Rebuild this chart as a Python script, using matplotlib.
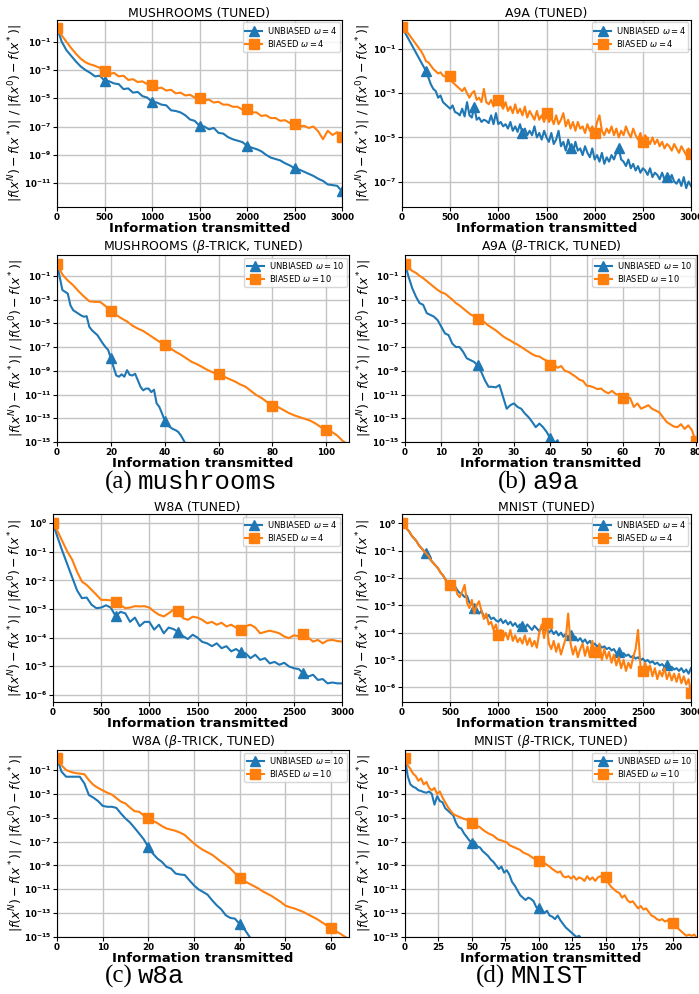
import numpy as np
import matplotlib
matplotlib.use('Agg')
import matplotlib.pyplot as plt
from matplotlib.ticker import FixedLocator, NullLocator

BLUE = '#1f77b4'
ORANGE = '#ff7f0e'

# ---------------- data (log10 of relative suboptimality) ----------------
# (a) mushrooms, tuned: x = information transmitted, step 50
mush_x = np.arange(0, 3001, 50)
mush_unb = [0, -1.0, -1.6, -2.0, -2.4, -2.75, -3.0, -3.2, -3.45, -3.4,
            -3.75, -3.8, -3.95, -4.0, -4.35, -4.3, -4.6, -4.55, -4.85, -4.95,
            -5.25, -5.3, -5.45, -5.5, -5.85, -5.9, -6.0, -6.2, -6.5, -6.6,
            -6.95, -7.0, -7.2, -7.1, -7.45, -7.5, -7.75, -7.9, -8.0, -8.1,
            -8.35, -8.5, -8.6, -8.75, -9.0, -9.2, -9.3, -9.4, -9.6, -9.75,
            -9.95, -10.05, -10.2, -10.35, -10.5, -10.7, -10.85, -11.1, -11.15, -11.2,
            -11.6]
mush_bia = [0, -0.55, -1.0, -1.45, -1.85, -2.2, -2.45, -2.6, -2.7, -2.85,
            -3.05, -3.3, -3.2, -3.45, -3.4, -3.7, -3.65, -3.85, -3.8, -4.0,
            -4.05, -4.3, -4.25, -4.45, -4.4, -4.65, -4.6, -4.8, -4.75, -4.95,
            -4.95, -5.15, -5.1, -5.3, -5.25, -5.45, -5.45, -5.6, -5.6, -5.8,
            -5.75, -6.0, -6.0, -6.25, -6.2, -6.4, -6.4, -6.6, -6.55, -6.75,
            -6.8, -7.0, -6.95, -7.1, -7.0, -7.35, -7.9, -7.3, -7.6, -7.4,
            -7.75]

# (b) a9a, tuned: step 25
a9a_x = np.arange(0, 3001, 25)
a9a_unb = [0, -0.2, -0.4, -0.6, -0.8, -1.0, -1.2, -1.4, -1.6, -1.8,
           -2.0, -2.3, -2.6, -2.8, -2.9, -3.2, -3.1, -3.4, -3.5, -3.6,
           -3.7, -3.55, -3.85, -3.9, -4.0, -3.7, -4.05, -3.4, -4.0, -4.1,
           -3.6, -4.2, -4.1, -4.3, -4.2, -4.25, -4.35, -4.0, -4.4, -3.9,
           -4.4, -4.3, -4.5, -4.4, -4.6, -4.3, -4.7, -4.5, -4.75, -4.4,
           -4.8, -4.6, -4.9, -4.7, -4.9, -4.5, -5.0, -4.8, -5.1, -4.7,
           -5.0, -5.2, -4.8, -5.3, -5.1, -4.7, -5.4, -5.2, -5.6, -5.1,
           -5.5, -5.7, -5.2, -5.6, -5.5, -5.8, -5.4, -5.7, -5.9, -5.5,
           -6.0, -5.8, -6.1, -5.7, -6.2, -5.9, -6.1, -5.8, -6.0, -5.7,
           -5.5, -6.0, -6.1, -6.3, -6.0, -6.4, -6.2, -6.5, -6.3, -6.6,
           -6.4, -6.5, -6.7, -6.4, -6.8, -6.6, -6.7, -6.9, -6.6, -6.9,
           -6.8, -7.0, -6.7, -7.0, -7.1, -6.9, -7.2, -6.8, -7.3, -7.0,
           -7.2]
a9a_bia = [0.0, -0.1, -0.2, -0.35, -0.5, -0.65, -0.8, -0.95, -1.1, -1.3,
           -1.55, -1.6, -1.75, -1.9, -2.0, -2.1, -2.05, -2.2, -2.25, -2.2,
           -2.2, -2.5, -2.6, -2.7, -2.8, -2.9, -2.75, -3.0, -3.2, -3.0,
           -2.9, -3.3, -3.2, -3.4, -2.8, -3.4, -3.5, -3.3, -3.6, -3.2,
           -3.3, -3.5, -3.7, -3.4, -3.8, -3.6, -3.9, -3.5, -3.9, -3.7,
           -4.0, -3.6, -4.1, -3.8, -4.0, -4.2, -3.8, -4.2, -4.0, -4.3,
           -3.9, -4.3, -4.1, -4.4, -4.0, -4.4, -4.2, -3.9, -4.5, -4.2,
           -4.6, -4.3, -4.7, -4.3, -4.6, -4.5, -4.8, -4.4, -4.7, -4.5,
           -4.8, -4.3, -4.0, -4.7, -4.9, -4.6, -4.8, -4.5, -4.9, -4.6,
           -5.0, -4.7, -4.9, -4.5, -4.8, -5.0, -4.6, -4.9, -5.1, -4.8,
           -5.2, -4.9, -5.1, -5.3, -5.0, -5.3, -5.1, -5.4, -5.2, -5.5,
           -5.3, -5.4, -5.6, -5.3, -5.5, -5.7, -5.4, -5.6, -5.8, -5.5,
           -5.75]

# (a) mushrooms, beta-trick
mushb_xu = np.arange(0, 49, 1)
mushb_unb = [0, -1.1, -2.2, -2.35, -2.5, -3.5, -3.9, -4.05, -4.2, -4.35,
             -4.45, -4.4, -5.3, -5.6, -5.8, -6.0, -6.35, -6.7, -7.0, -7.25,
             -7.95, -8.7, -9.4, -9.5, -9.3, -9.5, -8.95, -9.35, -9.4, -9.25,
             -9.8, -10.35, -10.65, -10.5, -10.5, -10.8, -10.6, -11.75, -12.05, -12.6,
             -13.2, -13.6, -13.75, -13.9, -14.0, -14.15, -14.45, -14.85, -15.3]
mushb_xb = np.arange(0, 109, 2)
mushb_bia = [0.0, -0.9, -1.4, -1.8, -2.3, -2.75, -3.15, -3.2, -3.2, -3.55,
             -3.95, -4.3, -4.6, -4.85, -5.2, -5.45, -5.65, -5.95, -6.25, -6.55,
             -6.85, -7.1, -7.4, -7.65, -7.95, -8.25, -8.45, -8.7, -8.95, -9.15,
             -9.3, -9.5, -9.7, -9.9, -10.15, -10.35, -10.7, -11.05, -11.3, -11.65,
             -11.95, -12.05, -12.3, -12.55, -12.75, -12.9, -13.05, -13.2, -13.45, -13.75,
             -13.95, -14.15, -14.45, -14.9, -15.2]

# (b) a9a, beta-trick
a9ab_xu = np.arange(0, 44, 1)
a9ab_unb = [0, -1.1, -2.05, -2.75, -3.3, -3.45, -4.15, -4.3, -4.45, -4.75,
            -5.3, -5.85, -6.0, -6.7, -7.0, -7.0, -7.4, -7.95, -8.1, -8.25,
            -8.55, -9.1, -9.8, -10.35, -10.35, -10.4, -10.2, -11.2, -12.2, -11.9,
            -11.75, -12.05, -12.2, -12.6, -12.9, -13.3, -13.75, -13.45, -13.75, -14.15,
            -14.7, -15.15, -14.85, -15.6]
a9ab_xb = np.arange(0, 81, 1)
a9ab_bia = [0, -0.3, -0.6, -0.75, -1.0, -1.2, -1.45, -1.7, -1.95, -2.2,
            -2.4, -2.5, -2.75, -3.0, -3.3, -3.5, -3.75, -4.0, -4.25, -4.4,
            -4.6, -4.7, -4.95, -5.2, -5.4, -5.6, -5.85, -6.1, -6.3, -6.45,
            -6.65, -6.8, -7.0, -7.2, -7.4, -7.6, -7.75, -7.8, -8.0, -8.15,
            -8.5, -8.45, -8.75, -8.6, -9.0, -9.1, -9.3, -9.5, -9.75, -9.85,
            -10.25, -10.3, -10.4, -10.55, -10.5, -10.75, -10.9, -10.7, -10.95, -11.05,
            -11.3, -11.2, -11.3, -12.05, -11.75, -12.2, -12.05, -11.9, -12.2, -12.35,
            -12.5, -12.9, -13.3, -13.5, -13.7, -13.75, -13.5, -13.9, -13.6, -14.0,
            -14.9]

# (c) w8a, tuned: step 50
w8a_x = np.arange(0, 3001, 50)
w8a_unb = [0, -0.52, -1.0, -1.45, -1.9, -2.35, -2.62, -2.6, -2.85, -2.97,
           -2.95, -2.87, -2.95, -3.25, -3.1, -3.15, -3.45, -3.3, -3.6, -3.45,
           -3.45, -3.72, -3.55, -3.85, -3.65, -3.7, -3.8, -3.95, -4.05, -3.9,
           -4.0, -4.15, -4.2, -4.3, -4.2, -4.37, -4.3, -4.48, -4.4, -4.52,
           -4.55, -4.72, -4.6, -4.78, -4.72, -4.9, -4.85, -4.95, -4.88, -5.01,
           -5.07, -5.1, -5.25, -5.36, -5.3, -5.48, -5.45, -5.6, -5.57, -5.6,
           -5.6]
w8a_bia = [0, -0.3, -0.65, -1.0, -1.28, -1.7, -2.04, -2.16, -2.33, -2.5,
           -2.68, -2.68, -2.7, -2.74, -2.86, -2.97, -2.95, -2.9, -2.91, -2.9,
           -2.95, -3.09, -3.2, -3.26, -3.15, -3.03, -3.07, -3.32, -3.38, -3.27,
           -3.3, -3.38, -3.5, -3.45, -3.55, -3.48, -3.61, -3.55, -3.65, -3.73,
           -3.6, -3.55, -3.65, -3.85, -3.8, -3.76, -3.8, -3.85, -3.96, -4.02,
           -3.92, -3.95, -3.88, -4.0, -4.14, -4.08, -4.2, -4.1, -4.08, -4.12,
           -4.14]

# (d) MNIST, tuned: step 25
mnist_x = np.arange(0, 3001, 25)
mnist_unb = [0, -0.1, -0.2, -0.3, -0.45, -0.55, -0.65, -0.8, -0.9, -1.0,
             -1.1, -1.2, -1.35, -1.45, -1.55, -1.65, -1.8, -1.9, -2.05, -2.15,
             -2.3, -2.35, -2.3, -2.45, -2.55, -2.6, -2.7, -2.65, -2.9, -2.95,
             -3.1, -3.2, -3.3, -3.2, -3.4, -3.45, -3.35, -3.5, -3.45, -3.55,
             -3.6, -3.5, -3.65, -3.55, -3.7, -3.6, -3.75, -3.65, -3.8, -3.7,
             -3.75, -3.85, -3.7, -3.8, -3.9, -3.75, -3.85, -3.95, -3.8, -3.9,
             -3.85, -4.0, -3.9, -4.05, -3.95, -4.1, -4.0, -4.15, -4.05, -4.2,
             -4.1, -4.25, -4.15, -4.3, -4.2, -4.35, -4.25, -4.4, -4.3, -4.45,
             -4.4, -4.5, -4.45, -4.55, -4.5, -4.6, -4.55, -4.65, -4.6, -4.75,
             -4.7, -4.8, -4.75, -4.85, -4.8, -4.9, -4.85, -4.95, -4.9, -5.0,
             -4.95, -5.05, -5.0, -5.1, -5.05, -5.15, -5.1, -5.2, -5.15, -5.25,
             -5.2, -5.3, -5.25, -5.35, -5.3, -5.4, -5.3, -5.45, -5.35, -5.5,
             -5.3]
mnist_bia = [0, -0.1, -0.2, -0.3, -0.45, -0.55, -0.65, -0.8, -0.9, -1.0,
             -1.1, -1.2, -1.35, -1.45, -1.55, -1.65, -1.8, -1.9, -2.05, -2.3,
             -2.25, -2.45, -2.3, -2.6, -2.7, -2.5, -2.25, -2.9, -3.1, -2.8,
             -3.3, -3.0, -2.85, -3.2, -3.5, -3.3, -3.7, -3.6, -3.9, -3.7,
             -4.1, -3.9, -4.2, -4.0, -4.25, -3.9, -4.3, -4.1, -4.35, -4.2,
             -4.4, -4.1, -4.45, -4.2, -4.5, -4.3, -4.55, -4.0, -3.7, -4.2,
             -3.65, -4.4, -4.6, -4.3, -4.7, -4.4, -4.8, -4.5, -4.2, -3.3,
             -4.4, -4.8, -4.5, -4.9, -4.6, -4.4, -4.85, -4.5, -4.9, -4.3,
             -4.7, -4.9, -4.4, -5.0, -4.6, -4.95, -4.7, -5.1, -4.8, -5.2,
             -4.9, -5.3, -5.0, -5.4, -5.1, -5.3, -4.9, -4.6, -3.9, -5.2,
             -5.4, -5.1, -5.5, -5.2, -5.6, -5.3, -5.7, -5.4, -5.6, -5.3,
             -5.7, -5.45, -5.75, -5.5, -5.8, -5.5, -5.85, -5.6, -5.9, -5.7,
             -6.2]

# (c) w8a, beta-trick
w8ab_xu = np.arange(0, 44, 1)
w8ab_unb = [0, -1.14, -1.56, -1.56, -1.56, -1.56, -2.12, -3.1, -3.32, -3.6,
            -4.0, -4.08, -4.08, -4.17, -4.64, -5.06, -5.4, -5.85, -6.32, -6.8,
            -7.45, -8.0, -8.42, -8.7, -9.12, -9.26, -9.68, -9.76, -9.8, -10.24,
            -10.66, -11.0, -11.22, -11.45, -11.92, -12.34, -12.68, -13.18, -13.4, -13.46,
            -13.9, -14.3, -14.87, -15.4]
w8ab_xb = np.arange(0, 65, 1)
w8ab_bia = [0, -0.6, -1.0, -1.15, -1.25, -1.3, -1.35, -1.85, -2.25, -2.5,
            -2.7, -2.9, -3.05, -3.35, -3.65, -3.8, -4.15, -4.45, -4.5, -4.8,
            -5.0, -5.25, -5.45, -5.7, -5.9, -6.0, -6.1, -6.25, -6.45, -6.8,
            -7.15, -7.45, -7.7, -7.9, -8.1, -8.4, -8.7, -8.95, -9.25, -9.65,
            -10.05, -10.3, -10.5, -10.7, -10.9, -11.15, -11.35, -11.55, -11.8, -12.05,
            -12.35, -12.5, -12.6, -12.75, -12.9, -13.1, -13.3, -13.5, -13.75, -14.0,
            -14.25, -14.5, -14.7, -14.95, -15.2]

# (d) MNIST, beta-trick: step 2
mnistb_xu = np.arange(0, 133, 2)
mnistb_unb = [0, -1.5, -2.2, -2.4, -2.5, -2.7, -2.75, -2.85, -2.9, -2.8,
              -3.0, -3.9, -3.2, -3.6, -3.7, -4.2, -4.4, -4.6, -4.8, -5.4,
              -5.8, -5.9, -6.3, -6.6, -6.9, -7.1, -7.0, -7.4, -7.5, -7.8,
              -8.0, -8.2, -8.5, -8.7, -9.0, -9.3, -9.1, -9.6, -9.4, -9.8,
              -10.4, -10.7, -11.1, -11.5, -11.7, -11.9, -11.7, -11.8, -12.0, -12.5,
              -12.6, -12.7, -13.0, -12.8, -13.2, -13.3, -13.5, -13.2, -13.6, -13.9,
              -14.2, -14.4, -14.6, -14.8, -15.0, -14.9, -15.2]
mnistb_xb = np.arange(0, 219, 2)
mnistb_bia = [0, -0.6, -0.9, -1.3, -1.5, -1.9, -1.7, -2.2, -2.0, -2.5,
              -2.7, -2.5, -3.0, -2.8, -3.3, -3.7, -4.1, -4.4, -4.7, -4.8,
              -4.9, -5.0, -5.1, -5.15, -5.3, -5.4, -5.5, -5.7, -5.8, -6.0,
              -6.15, -6.3, -6.4, -6.5, -6.7, -6.85, -6.9, -7.0, -7.05, -7.3,
              -7.4, -7.5, -7.6, -7.7, -7.9, -8.0, -8.1, -8.25, -8.4, -8.5,
              -8.65, -8.6, -8.8, -8.95, -9.1, -9.3, -9.45, -9.6, -9.5, -9.9,
              -10.0, -9.9, -10.1, -9.9, -10.2, -10.0, -10.1, -10.3, -9.9, -10.2,
              -10.0, -10.3, -10.0, -9.9, -10.1, -9.95, -10.5, -10.8, -11.0, -11.2,
              -11.3, -11.7, -11.5, -11.9, -12.1, -12.0, -12.3, -12.6, -12.4, -12.7,
              -12.6, -12.9, -13.2, -13.3, -13.5, -13.6, -13.5, -13.7, -13.6, -13.9,
              -13.8, -14.0, -14.3, -14.5, -14.7, -14.9, -14.8, -14.9, -14.8, -15.1]

# ---------------- figure ----------------
W, H = 699, 994
fig = plt.figure(figsize=(W / 100, H / 100), dpi=100)

YLABEL = r'$|f(x^N) - f(x^*)|$ / $|f(x^0) - f(x^*)|$'


def add_ax(l, r, t, b):
    return fig.add_axes([l / W, 1 - b / H, (r - l) / W, (b - t) / H])


def panel(box, title, xu, yu, xb, yb, omega, me_u, me_b, xlim, ylim,
          xticks, yexps, ylab_px):
    l, r, t, b = box
    ax = add_ax(l, r, t, b)
    ax.set_yscale('log')
    ax.plot(xu, 10.0 ** np.asarray(yu), color=BLUE, lw=1.5, marker='^',
            ms=7, markevery=me_u, label=r'UNBIASED $\omega = %d$' % omega)
    ax.plot(xb, 10.0 ** np.asarray(yb), color=ORANGE, lw=1.5, marker='s',
            ms=7, markevery=me_b, label=r'BIASED $\omega = %d$' % omega)
    ax.set_xlim(*xlim)
    ax.set_ylim(*ylim)
    ax.set_xticks(xticks)
    ax.set_xticklabels([str(v) for v in xticks], fontweight='bold', fontsize=6.3)
    ax.yaxis.set_major_locator(FixedLocator([10.0 ** e for e in yexps]))
    ax.yaxis.set_minor_locator(NullLocator())
    ax.set_yticklabels([r'$\mathbf{10^{%d}}$' % e for e in yexps], fontsize=6.2)
    ax.tick_params(length=3, width=0.8, pad=1.5)
    ax.grid(True, which='major', color='#c4c4c4', lw=1.0)
    ax.set_axisbelow(True)
    ax.set_title(title, fontsize=9, pad=2)
    ax.set_xlabel('Information transmitted', fontsize=9.5, fontweight='bold', labelpad=-0.5)
    ax.set_ylabel(YLABEL, fontsize=9)
    ax.yaxis.set_label_coords((ylab_px + 7 - l) / (r - l), 0.5)
    ax.legend(loc='upper right', fontsize=6, handlelength=2.0,
              borderpad=0.3, labelspacing=0.25, handletextpad=0.6,
              borderaxespad=0.3)
    return ax


k2 = list(range(-1, -12, -2))
panel((57, 342, 20, 207), 'MUSHROOMS (TUNED)', mush_x, mush_unb, mush_x, mush_bia,
      4, 10, 10, (0, 3000), (2e-13, 3.5), list(range(0, 3001, 500)), k2, 18)
panel((402, 691, 20, 207), 'A9A (TUNED)', a9a_x, a9a_unb, a9a_x, a9a_bia,
      4, (10, 20), 20, (0, 3000), (7e-9, 2.1), list(range(0, 3001, 500)),
      [-1, -3, -5, -7], 366)
k15 = list(range(-1, -16, -2))
panel((57, 349, 255, 442), r'MUSHROOMS ($\beta$-TRICK, TUNED)', mushb_xu, mushb_unb,
      mushb_xb, mushb_bia, 10, 20, 10, (0, 108.4), (1e-15, 5.6),
      [0, 20, 40, 60, 80, 100], k15, 19)
panel((405, 697, 255, 442), r'A9A ($\beta$-TRICK, TUNED)', a9ab_xu, a9ab_unb,
      a9ab_xb, a9ab_bia, 10, 20, 20, (0, 80.4), (1e-15, 5.6),
      [0, 10, 20, 30, 40, 50, 60, 70, 80], k15, 367)
panel((53, 342, 514, 702), 'W8A (TUNED)', w8a_x, w8a_unb, w8a_x, w8a_bia,
      4, 13, 13, (0, 3000), (5.6e-7, 2.1), list(range(0, 3001, 500)),
      list(range(0, -7, -1)), 18)
panel((402, 691, 514, 702), 'MNIST (TUNED)', mnist_x, mnist_unb, mnist_x, mnist_bia,
      4, (10, 20), 20, (0, 3000), (2.9e-7, 2.2), list(range(0, 3001, 500)),
      list(range(0, -7, -1)), 366)
panel((57, 349, 750, 937), r'W8A ($\beta$-TRICK, TUNED)', w8ab_xu, w8ab_unb,
      w8ab_xb, w8ab_bia, 10, 20, 20, (0, 64), (1e-15, 4.8),
      [0, 10, 20, 30, 40, 50, 60], k15, 19)
panel((405, 697, 750, 937), r'MNIST ($\beta$-TRICK, TUNED)', mnistb_xu, mnistb_unb,
      mnistb_xb, mnistb_bia, 10, 25, 25, (0, 218), (1e-15, 4.8),
      [0, 25, 50, 75, 100, 125, 150, 175, 200], k15, 367)

# ---------------- captions ----------------
captions = [('(a)', 'mushrooms', 133, 489), ('(b)', 'a9a', 527, 489),
            ('(c)', 'w8a', 133, 983), ('(d)', 'MNIST', 505, 983)]
for lab, name, xr, yb in captions:
    fig.text(xr / W, 1 - yb / H, lab, ha='right', va='baseline',
             fontsize=18, family='Liberation Serif')
    fig.text((xr + 5) / W, 1 - yb / H, name, ha='left', va='baseline',
             fontsize=18.5, family='Liberation Mono')

fig.savefig('out.png', dpi=100)
